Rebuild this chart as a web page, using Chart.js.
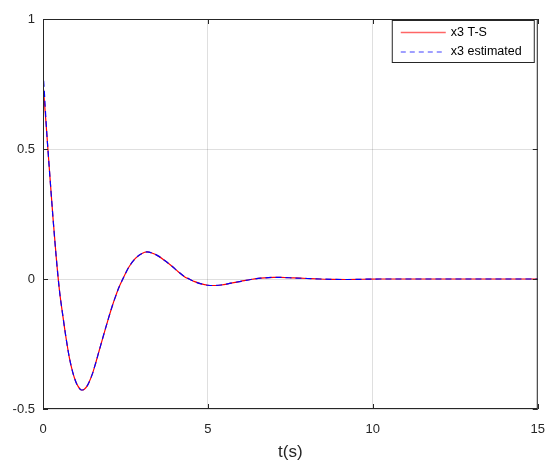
<!DOCTYPE html>
<html>
<head>
<meta charset="utf-8">
<script src="https://cdn.jsdelivr.net/npm/chart.js@4.4.0/dist/chart.umd.min.js"></script>
<style>
  html, body { margin: 0; padding: 0; background: #fff; }
  #wrap { width: 558px; height: 470px; }
</style>
</head>
<body>
<div id="wrap"><canvas id="chart" width="558" height="470"></canvas></div>
<script>
// time samples (s)
const timeS = [0, 0.05, 0.1, 0.2, 0.3, 0.4, 0.5, 0.6, 0.7, 0.8,
  0.9, 1.0, 1.06, 1.12, 1.16, 1.2, 1.26, 1.33, 1.4, 1.5, 1.6, 1.7, 1.8,
  1.9, 2.0, 2.1, 2.2, 2.3, 2.42, 2.6, 2.8, 3.0, 3.15,
  3.3, 3.5, 3.7, 3.92, 4.1, 4.3, 4.43, 4.6, 4.8, 5.0,
  5.15, 5.4, 5.7, 6.0, 6.3, 6.6, 7.0, 7.2, 7.6, 8.0,
  8.4, 8.8, 9.2, 9.7, 10.2, 11, 12, 13, 14, 15];

const x3TS = [0.754, 0.670, 0.585, 0.410, 0.240, 0.085, -0.045, -0.140, -0.228, -0.303,
  -0.358, -0.397, -0.412, -0.423, -0.427, -0.427, -0.423, -0.413, -0.396, -0.364, -0.322, -0.277, -0.232,
  -0.188, -0.145, -0.104, -0.067, -0.033, 0.000, 0.045, 0.079, 0.098, 0.104,
  0.100, 0.088, 0.070, 0.048, 0.028, 0.008, 0.000, -0.010, -0.019, -0.024,
  -0.025, -0.023, -0.016, -0.009, -0.002, 0.003, 0.006, 0.006, 0.004, 0.002,
  0.000, -0.0015, -0.002, -0.001, 0, 0, 0, 0, 0, 0];

const x3Est = [0.800, 0.700, 0.590, 0.410, 0.240, 0.085, -0.045, -0.140, -0.228, -0.303,
  -0.358, -0.397, -0.412, -0.423, -0.427, -0.427, -0.423, -0.413, -0.396, -0.364, -0.322, -0.277, -0.232,
  -0.188, -0.145, -0.104, -0.067, -0.033, 0.000, 0.045, 0.079, 0.098, 0.104,
  0.100, 0.088, 0.070, 0.048, 0.028, 0.008, 0.000, -0.010, -0.019, -0.024,
  -0.025, -0.023, -0.016, -0.009, -0.002, 0.003, 0.006, 0.006, 0.004, 0.002,
  0.000, -0.0015, -0.002, -0.001, 0, 0, 0, 0, 0, 0];

const xTicks = [0, 5, 10, 15];
const yTicks = [-0.5, 0, 0.5, 1];
const seriesNames = ['x3 T-S', 'x3 estimated'];

const FONT = 'Liberation Sans, Arial, sans-serif';
const AXIS = '#262626';

// box round the axes plus small inward ticks, matlab style
const boxPlugin = {
  id: 'box',
  afterDraw(chart) {
    const { ctx, chartArea: a, scales } = chart;
    ctx.save();
    ctx.strokeStyle = AXIS;
    ctx.lineWidth = 1;
    ctx.strokeRect(a.left + 0.5, a.top + 0.5, a.right - a.left - 1, a.bottom - a.top - 1);
    ctx.beginPath();
    xTicks.forEach(v => {
      const px = Math.round(scales.x.getPixelForValue(v)) + 0.5;
      ctx.moveTo(px, a.bottom); ctx.lineTo(px, a.bottom - 5);
      ctx.moveTo(px, a.top); ctx.lineTo(px, a.top + 5);
    });
    yTicks.forEach(v => {
      const py = Math.round(scales.y.getPixelForValue(v)) + 0.5;
      ctx.moveTo(a.left, py); ctx.lineTo(a.left + 5, py);
      ctx.moveTo(a.right, py); ctx.lineTo(a.right - 5, py);
    });
    ctx.stroke();
    ctx.restore();
  }
};

// legend drawn inside the axes, top right
const legendPlugin = {
  id: 'boxLegend',
  afterDraw(chart) {
    const { ctx, chartArea: a } = chart;
    const w = 143, h = 43;
    const x = a.right - 3 - w, y = a.top + 1;
    ctx.save();
    ctx.fillStyle = '#fff';
    ctx.fillRect(x, y, w, h);
    ctx.strokeStyle = AXIS;
    ctx.lineWidth = 1;
    ctx.strokeRect(x + 0.5, y + 0.5, w - 1, h - 1);
    const rows = [
      { color: 'rgba(255,0,0,0.6)', dash: [] },
      { color: 'rgba(0,0,255,0.5)', dash: [5, 4] }
    ];
    ctx.font = '12.5px ' + FONT;
    ctx.textBaseline = 'middle';
    ctx.lineWidth = 1.3;
    rows.forEach((r, i) => {
      const ry = y + 12.5 + i * 19.5;
      ctx.beginPath();
      ctx.setLineDash(r.dash);
      ctx.strokeStyle = r.color;
      ctx.moveTo(x + 9, ry); ctx.lineTo(x + 54, ry);
      ctx.stroke();
      ctx.setLineDash([]);
      ctx.fillStyle = '#000';
      ctx.fillText(seriesNames[i], x + 59, ry);
    });
    ctx.restore();
  }
};

const toPoints = ys => timeS.map((t, i) => ({ x: t, y: ys[i] }));

new Chart(document.getElementById('chart'), {
  type: 'line',
  data: {
    datasets: [
      {
        label: seriesNames[0],
        data: toPoints(x3TS),
        borderColor: '#ff0000',
        borderWidth: 1.2,
        pointRadius: 0,
        cubicInterpolationMode: 'monotone',
        order: 1
      },
      {
        label: seriesNames[1],
        data: toPoints(x3Est),
        borderColor: '#0000ff',
        borderWidth: 1.2,
        borderDash: [6, 4],
        pointRadius: 0,
        cubicInterpolationMode: 'monotone',
        order: 0
      }
    ]
  },
  options: {
    responsive: false,
    animation: false,
    layout: { padding: { top: 19, right: 18, left: 0, bottom: 0 } },
    plugins: { legend: { display: false }, tooltip: { enabled: false } },
    scales: {
      x: {
        type: 'linear',
        min: 0, max: 15,
        afterBuildTicks: s => { s.ticks = xTicks.map(v => ({ value: v })); },
        afterFit: s => { s.height = 61; },
        grid: { color: 'rgba(38,38,38,0.15)', drawTicks: false },
        border: { display: false },
        ticks: { padding: 13, color: AXIS, font: { family: FONT, size: 13 }, maxRotation: 0, callback: v => String(v) },
        title: { display: true, text: 't(s)', color: AXIS, font: { family: FONT, size: 17 }, padding: { top: 0, bottom: 7 } }
      },
      y: {
        min: -0.5, max: 1,
        afterBuildTicks: s => { s.ticks = yTicks.map(v => ({ value: v })); },
        afterFit: s => { s.width = 43; },
        grid: { color: 'rgba(38,38,38,0.15)', drawTicks: false },
        border: { display: false },
        ticks: { padding: 8, color: AXIS, font: { family: FONT, size: 13 }, callback: v => String(v) }
      }
    }
  },
  plugins: [boxPlugin, legendPlugin]
});
</script>
</body>
</html>
